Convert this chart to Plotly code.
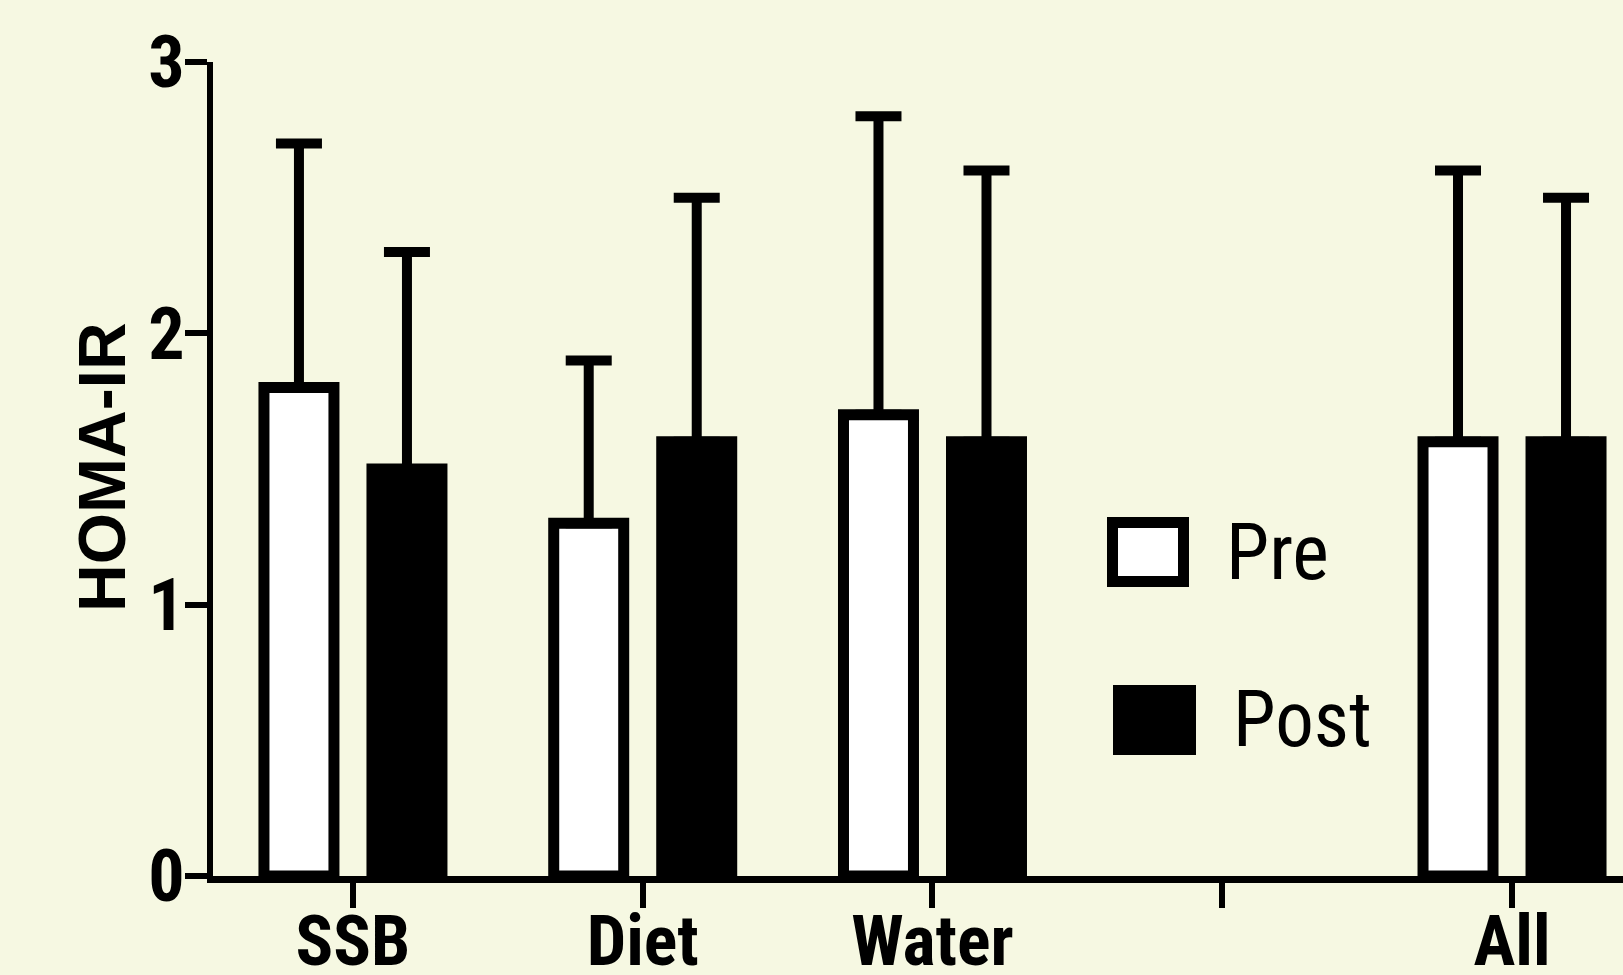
import plotly.graph_objects as go

# ---- data ----
categories = ["SSB", "Diet", "Water", " ", "All"]
pre_mean = [1.8, 1.3, 1.7, None, 1.6]
pre_err = [0.9, 0.6, 1.1, None, 1.0]
post_mean = [1.5, 1.6, 1.6, None, 1.6]
post_err = [0.8, 0.9, 1.0, None, 0.9]
y_ticks = [0, 1, 2, 3]
series_names = ["Pre", "Post"]

W, H = 1623, 975
L, R, T, B = 213, 0, 62, 99
BG = "#F6F8E2"
NARROW = "Roboto Condensed, Liberation Sans, Arial, sans-serif"
WIDE = "Liberation Sans, Arial, sans-serif"


def px_x(px):
    return (px - L) / (W - L - R)


def px_y(py):
    return (H - B - py) / (H - T - B)


fig = go.Figure()
fig.add_trace(go.Bar(
    x=categories, y=pre_mean, name=series_names[0],
    marker=dict(color="white", line=dict(color="black", width=11)),
    error_y=dict(type="data", array=pre_err, arrayminus=[0] * len(pre_err),
                 symmetric=False, color="black", thickness=10, width=23),
))
fig.add_trace(go.Bar(
    x=categories, y=post_mean, name=series_names[1],
    marker=dict(color="black", line=dict(color="black", width=11)),
    error_y=dict(type="data", array=post_err, arrayminus=[0] * len(post_err),
                 symmetric=False, color="black", thickness=10, width=23),
))

fig.update_layout(
    width=W, height=H,
    margin=dict(l=L, r=R, t=T, b=B, pad=0),
    paper_bgcolor=BG, plot_bgcolor=BG,
    barmode="group", bargap=0.2545, bargroupgap=0.352,
    showlegend=False,
    xaxis=dict(
        type="category", categoryorder="array", categoryarray=categories,
        range=[-0.483, 4.383], automargin=False,
        showline=True, linecolor="black", linewidth=7,
        ticks="outside", ticklen=25, tickwidth=6, tickcolor="black",
        ticklabelstandoff=-27,
        tickfont=dict(family=NARROW, size=70, color="black", weight="bold"),
        showgrid=False, zeroline=False, fixedrange=True,
    ),
    yaxis=dict(
        range=[0, 3], tickvals=y_ticks, ticktext=[str(v) for v in y_ticks],
        automargin=False,
        showline=True, linecolor="black", linewidth=6,
        ticks="outside", ticklen=22, tickwidth=6, tickcolor="black",
        ticklabelstandoff=-14,
        tickfont=dict(family=NARROW, size=72, color="black", weight="bold"),
        showgrid=False, zeroline=False, fixedrange=True,
    ),
)

# y-axis title
fig.add_annotation(
    text="HOMA-IR", textangle=-90, showarrow=False,
    xref="paper", yref="paper", x=px_x(102), y=px_y(467),
    xanchor="center", yanchor="middle",
    font=dict(family=WIDE, size=66, color="black", weight="bold"),
)

# legend (drawn manually to match the large symbols)
fig.add_shape(type="rect", xref="paper", yref="paper",
              x0=px_x(1112.5), x1=px_x(1183.5), y0=px_y(522.5), y1=px_y(581.5),
              fillcolor="white", line=dict(color="black", width=11))
fig.add_shape(type="rect", xref="paper", yref="paper",
              x0=px_x(1113), x1=px_x(1196), y0=px_y(685), y1=px_y(755),
              fillcolor="black", line=dict(width=0))
fig.add_annotation(text=series_names[0], showarrow=False, xref="paper", yref="paper",
                   x=px_x(1224), y=px_y(552), xanchor="left", yanchor="middle",
                   font=dict(family=NARROW, size=78, color="black"))
fig.add_annotation(text=series_names[1], showarrow=False, xref="paper", yref="paper",
                   x=px_x(1231), y=px_y(720), xanchor="left", yanchor="middle",
                   font=dict(family=NARROW, size=77, color="black"))

fig.write_html("out.html", config={"displayModeBar": False},
               post_script="document.body.style.margin='0';document.body.style.background='%s';" % BG)
